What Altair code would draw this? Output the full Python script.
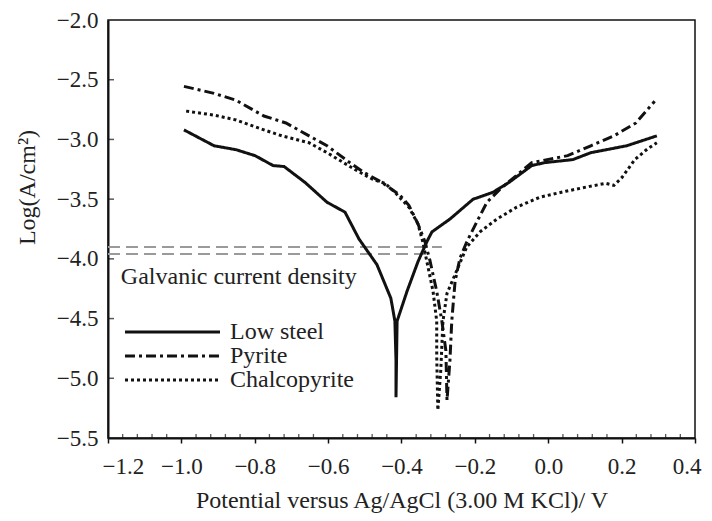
import altair as alt
import pandas as pd

series_names = ["Low steel", "Pyrite", "Chalcopyrite"]

low_x = [-0.993, -0.911, -0.851, -0.799, -0.750, -0.720, -0.663, -0.603, -0.554, -0.516,
         -0.467, -0.429, -0.418, -0.415, -0.415, -0.412, -0.385, -0.355, -0.331, -0.317,
         -0.268, -0.205, -0.151, -0.107, -0.045, -0.009, 0.067, 0.116, 0.214, 0.296]
low_y = [-2.920, -3.053, -3.086, -3.136, -3.219, -3.227, -3.360, -3.526, -3.609, -3.833,
         -4.048, -4.330, -4.521, -4.852, -5.159, -4.521, -4.272, -4.023, -3.857, -3.774,
         -3.667, -3.501, -3.443, -3.360, -3.219, -3.194, -3.169, -3.111, -3.053, -2.970]

pyr_x = [-0.993, -0.911, -0.851, -0.775, -0.715, -0.652, -0.603, -0.541, -0.502, -0.453,
         -0.404, -0.380, -0.355, -0.336, -0.323, -0.304, -0.290, -0.279, -0.276,
         -0.268, -0.263, -0.254, -0.241, -0.222, -0.195, -0.167, -0.132, -0.045, 0.053,
         0.116, 0.179, 0.239, 0.290]
pyr_y = [-2.556, -2.614, -2.672, -2.804, -2.862, -2.970, -3.053, -3.194, -3.277, -3.360,
         -3.468, -3.551, -3.708, -3.857, -4.007, -4.272, -4.521, -4.770, -5.184,
         -4.852, -4.521, -4.189, -3.998, -3.857, -3.692, -3.526, -3.418, -3.194, -3.136,
         -3.053, -2.970, -2.862, -2.680]

chal_x = [-0.987, -0.911, -0.851, -0.775, -0.726, -0.652, -0.603, -0.527, -0.478, -0.445,
          -0.418, -0.380, -0.355, -0.342, -0.328, -0.314, -0.304, -0.304, -0.301,
          -0.293, -0.287, -0.276, -0.254, -0.222, -0.186, -0.140, -0.086, -0.023, 0.048,
          0.113, 0.157, 0.179, 0.201, 0.236, 0.271, 0.296]
chal_y = [-2.763, -2.796, -2.837, -2.920, -2.970, -3.028, -3.111, -3.252, -3.335, -3.368,
          -3.443, -3.567, -3.708, -3.857, -4.065, -4.272, -4.521, -4.811, -5.267,
          -4.935, -4.521, -4.289, -4.131, -3.899, -3.774, -3.667, -3.567, -3.484, -3.434,
          -3.393, -3.368, -3.385, -3.318, -3.169, -3.078, -3.028]

galv_y = [-3.90, -3.96]
galv_x_end = [-0.29, -0.32]
galv_label = "Galvanic current density"

x_ticks = [-1.2, -1.0, -0.8, -0.6, -0.4, -0.2, 0.0, 0.2, 0.4]
y_ticks = [-5.5, -5.0, -4.5, -4.0, -3.5, -3.0, -2.5, -2.0]
x_minor = [round(-1.2 + 0.04 * k, 2) for k in range(41) if k % 5]
y_inner = [-5.0, -4.5, -4.0, -3.5, -3.0, -2.5]

x_title = "Potential versus Ag/AgCl (3.00 M KCl)/ V"
y_title = "Log(A/cm²)"

rows = []
for name, xs_, ys_ in [("Low steel", low_x, low_y), ("Pyrite", pyr_x, pyr_y),
                       ("Chalcopyrite", chal_x, chal_y)]:
    for i, (a, b) in enumerate(zip(xs_, ys_)):
        rows.append({"series": name, "E": a, "logi": b, "idx": i})
df = pd.DataFrame(rows)

galv_df = pd.DataFrame({"y": galv_y, "x0": [-1.2] * len(galv_y), "x1": galv_x_end})
label_df = pd.DataFrame({"text": [galv_label], "x": [-1.165], "y": [-4.15]})
legend_df = pd.DataFrame({"series": series_names, "row": list(range(len(series_names)))})
minor_df = pd.DataFrame({"v": x_minor})
yin_df = pd.DataFrame({"v": y_inner})

FONT = "Liberation Serif"
INK = "#111111"
H = 418
xsc = alt.Scale(domain=[-1.2, 0.4], nice=False, zero=False)
ysc = alt.Scale(domain=[-5.5, -2.0], nice=False, zero=False)
dash_scale = alt.Scale(domain=series_names, range=[[1, 0], [10, 4, 3, 4], [3, 3]])

x_axis = alt.Axis(values=x_ticks, format=".1f", tickSize=5, tickWidth=1.5, tickColor=INK,
                  labelFontSize=23, labelPadding=12, labelFlush=True, labelFlushOffset=6,
                  title=x_title, titleFontSize=24, titleY=69, titleBaseline="alphabetic")
y_axis = alt.Axis(values=y_ticks, format=".1f", ticks=False, labelFontSize=23,
                  labelPadding=10, labelFlush=False, title=y_title, titleFontSize=24,
                  titleX=-81, titleY=167, titleAlign="center", titleBaseline="middle",
                  titleAngle=-90)

galv = alt.Chart(galv_df).mark_rule(color="#9a9a9a", strokeWidth=2, strokeDash=[12, 6]).encode(
    x=alt.X("x0:Q", scale=xsc, axis=x_axis),
    x2="x1:Q",
    y=alt.Y("y:Q", scale=ysc, axis=y_axis),
)

galv_text = alt.Chart(label_df).mark_text(align="left", baseline="middle", font=FONT,
                                          fontSize=24, color="#222").encode(
    x=alt.X("x:Q", scale=xsc), y=alt.Y("y:Q", scale=ysc), text="text:N")

lines = alt.Chart(df).mark_line(color=INK, strokeWidth=3).encode(
    x=alt.X("E:Q", scale=xsc),
    y=alt.Y("logi:Q", scale=ysc),
    strokeDash=alt.StrokeDash("series:N", scale=dash_scale, legend=None),
    detail="series:N",
    order="idx:Q",
)

minor = alt.Chart(minor_df).mark_tick(orient="vertical", size=4, thickness=1.3, color=INK).encode(
    x=alt.X("v:Q", scale=xsc), y=alt.value(H - 2))

yin = alt.Chart(yin_df).mark_tick(orient="horizontal", size=6, thickness=1.5, color=INK).encode(
    y=alt.Y("v:Q", scale=ysc), x=alt.value(3))

leg_rules = alt.Chart(legend_df).transform_calculate(ly="312 + 24*datum.row").mark_rule(
    color=INK, strokeWidth=3).encode(
    x=alt.value(17), x2=alt.value(112),
    y=alt.Y("ly:Q", scale=None, axis=None),
    strokeDash=alt.StrokeDash("series:N", scale=dash_scale, legend=None),
)
leg_text = alt.Chart(legend_df).transform_calculate(ly="312 + 24*datum.row").mark_text(
    align="left", baseline="middle", font=FONT, fontSize=24, color="#222").encode(
    x=alt.value(122), y=alt.Y("ly:Q", scale=None, axis=None), text="series:N")

chart = alt.layer(galv, galv_text, lines, minor, yin, leg_rules, leg_text).properties(
    width=587, height=H,
    autosize=alt.AutoSizeParams(type="none"),
    padding={"left": 100, "top": 12, "right": 8, "bottom": 80},
).configure_view(stroke=INK, strokeWidth=1.5).configure_axis(
    domainColor=INK, domainWidth=2, labelColor="#222", titleColor="#222",
    labelFont=FONT, titleFont=FONT, titleFontWeight="normal", grid=False)

chart.save("out.html", embed_options={"renderer": "svg", "actions": False})
